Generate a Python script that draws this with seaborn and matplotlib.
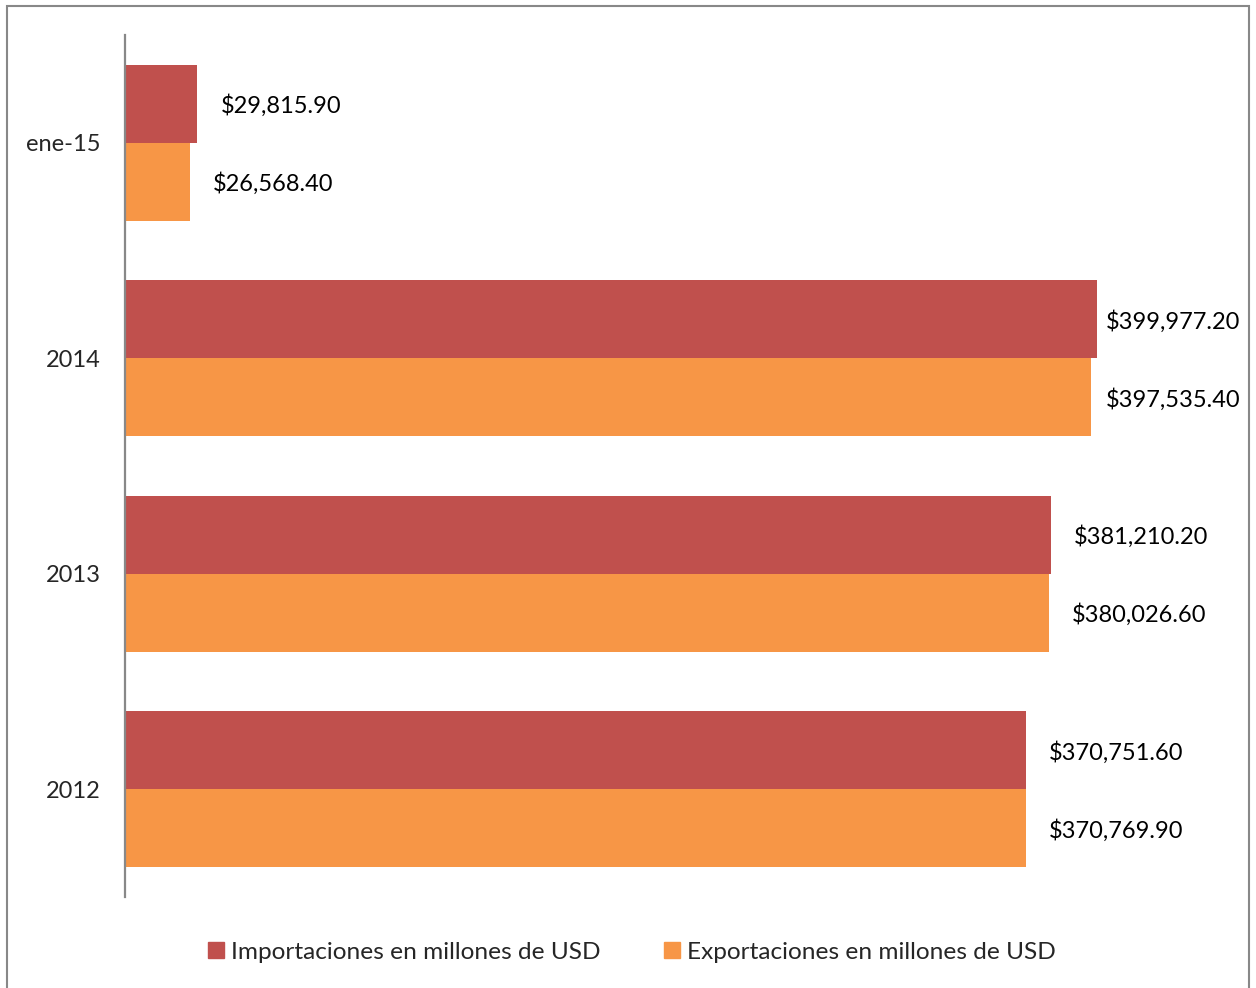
import matplotlib
matplotlib.use("Agg")
import matplotlib.pyplot as plt
import seaborn as sns
import pandas as pd
from matplotlib.patches import Rectangle

categories = ["ene-15", "2014", "2013", "2012"]
importaciones = [29815.90, 399977.20, 381210.20, 370751.60]
exportaciones = [26568.40, 397535.40, 380026.60, 370769.90]
series_names = ["Importaciones en millones de USD", "Exportaciones en millones de USD"]
colors = ["#C0504D", "#F79646"]

df = pd.DataFrame({
    "cat": categories * 2,
    "val": importaciones + exportaciones,
    "serie": [series_names[0]] * 4 + [series_names[1]] * 4,
})

sns.set_style("white")
plt.rcParams["font.family"] = ["Lato", "DejaVu Sans"]

W, H = 1256, 988
fig = plt.figure(figsize=(W / 100, H / 100), dpi=100)
ax = fig.add_axes([125 / W, 1 - 897 / H, (1218.6 - 125) / W, (897 - 35) / H])

sns.barplot(data=df, y="cat", x="val", hue="serie", order=categories,
            hue_order=series_names, palette=colors, orient="h",
            width=0.722, ax=ax, legend=False, saturation=1, linewidth=0)

ax.set_xlim(0, 450000)
ax.set_ylim(3.5, -0.5)
ax.set_xlabel("")
ax.set_ylabel("")
ax.set_xticks([])
for s in ["top", "right", "bottom"]:
    ax.spines[s].set_visible(False)
ax.spines["left"].set_color("#888888")
ax.spines["left"].set_linewidth(1.6)
ax.tick_params(axis="y", length=0, pad=17.5, labelsize=17)

# value labels
fig.canvas.draw()
renderer = fig.canvas.get_renderer()
off = 16.5
for container in ax.containers:
    for bar in container:
        v = bar.get_width()
        yc = bar.get_y() + bar.get_height() / 2
        txt = "${:,.2f}".format(v)
        t = ax.annotate(txt, xy=(v, yc), xytext=(off, -1.5), textcoords="offset points",
                        ha="left", va="center", fontsize=17, color="black")
        bb = t.get_window_extent(renderer)
        if bb.x1 > 1240:
            shift = (bb.x1 - 1240) * 72 / fig.dpi
            t.set_position((off - shift, -1.5))

# legend
handles = [Rectangle((0, 0), 1, 1, color=c) for c in colors]
fig.legend(handles, series_names, loc="center", bbox_to_anchor=(632 / W, 1 - 952 / H),
           ncol=2, frameon=False, fontsize=17.6, handlelength=0.65, handleheight=0.65,
           handletextpad=0.3, columnspacing=2.6)

# outer border
fig.patches.append(Rectangle((7 / W, -0.02), (1249 - 7) / W, 1.02 - 6 / H,
                             transform=fig.transFigure, fill=False,
                             edgecolor="#888888", linewidth=1.5))

fig.savefig("out.png", dpi=100)
